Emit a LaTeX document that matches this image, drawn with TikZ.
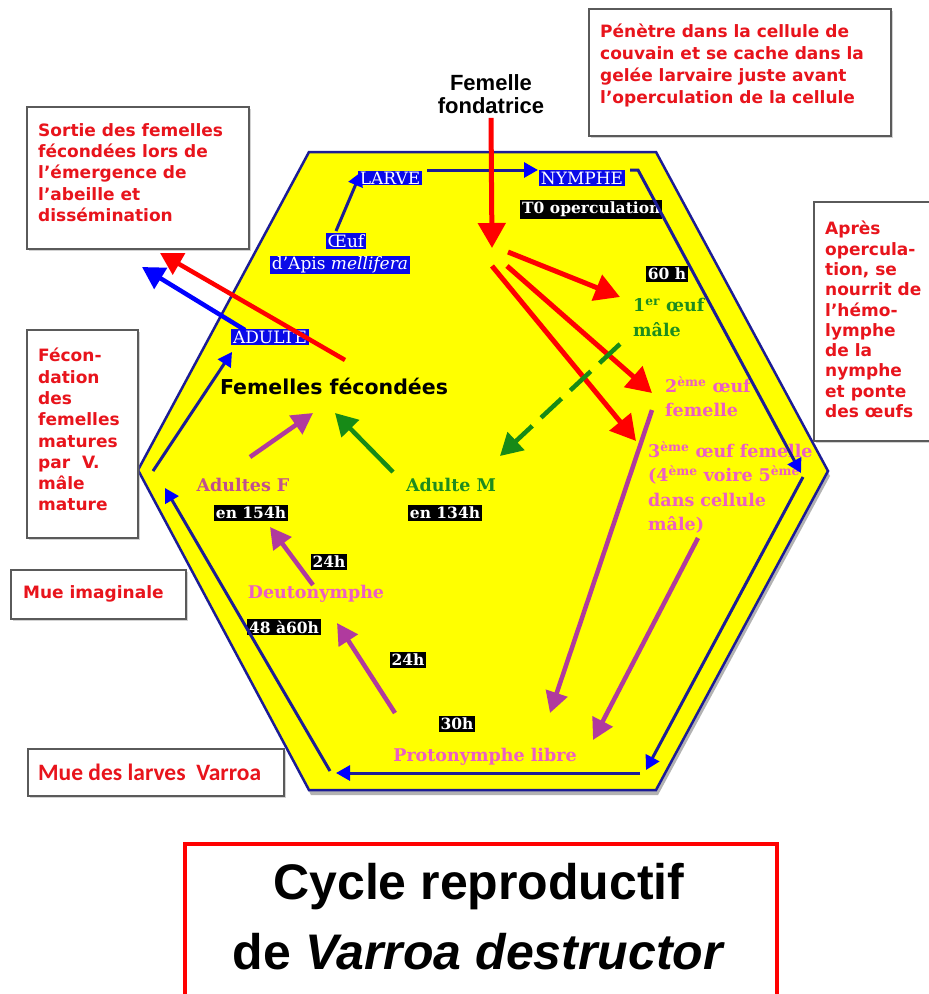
\documentclass[tikz,border=0pt]{standalone}
\usepackage{fontspec}
\setmainfont{DejaVu Serif}
\newfontfamily\vsans{DejaVu Sans}
\newfontfamily\asans{Liberation Sans}
\newfontfamily\csans{Carlito}
\usetikzlibrary{arrows.meta,shadows}
\definecolor{hexyel}{HTML}{FFFF00}
\definecolor{hexnavy}{HTML}{1C1C96}
\definecolor{lblue}{HTML}{0A0AE8}
\definecolor{tipblue}{HTML}{0000FF}
\definecolor{txtred}{HTML}{E8141C}
\definecolor{arrred}{HTML}{FF0000}
\definecolor{pinktxt}{HTML}{EC5EC4}
\definecolor{mauvetxt}{HTML}{C0508E}
\definecolor{purparr}{HTML}{B03A9E}
\definecolor{greentxt}{HTML}{1E8C1E}
\definecolor{greenarr}{HTML}{178A17}
\definecolor{boxgray}{HTML}{5A5A5A}
\tikzset{
 infobox/.style={draw=boxgray, line width=1.8pt, fill=white, drop shadow={shadow xshift=2pt,shadow yshift=-2pt,opacity=0.35,fill=gray}, inner sep=0pt, anchor=north west},
 redtxt/.style={text=txtred, font=\vsans\bfseries\fontsize{17}{21.3}\selectfont, align=left, inner xsep=12pt, inner ysep=18pt, anchor=north west},
 bluelbl/.style={fill=lblue, text=white, font=\fontsize{17}{19}\selectfont, inner xsep=2pt, inner ysep=1.2pt},
 blacklbl/.style={fill=black, text=white, font=\bfseries\fontsize{15.5}{18}\selectfont, inner xsep=2pt, inner ysep=2pt},
 stagelbl/.style={font=\bfseries\fontsize{17.5}{24.5}\selectfont, align=left, inner sep=0pt},
 cyc/.style={draw=hexnavy, line width=3pt, -{Triangle[length=14pt,width=15pt,fill=tipblue,color=tipblue]}},
 redarr/.style={draw=arrred, line width=5pt, -{Triangle[length=25pt,width=27pt]}},
 purarr/.style={draw=purparr, line width=4.5pt, -{Triangle[length=21pt,width=22pt]}},
 grnarr/.style={draw=greenarr, line width=4.5pt, -{Triangle[length=22pt,width=24pt]}},
}
\begin{document}
\begin{tikzpicture}[x=1pt,y=-1pt]
\useasboundingbox (0,0) rectangle (929,994);
\fill[white] (0,0) rectangle (929,994);
% hexagon
\fill[black!30] (311,157) -- (658,157) -- (830,476) -- (658,795) -- (311,795) -- (140,475) -- cycle;
\filldraw[fill=hexyel, draw=hexnavy, line width=2.5pt] (309,152) -- (656,152) -- (828,471) -- (656,790) -- (309,790) -- (138,470) -- cycle;

% info boxes
\node[infobox, minimum width=302pt, minimum height=127pt] (boxA) at (588,8) {};
\node[redtxt, inner ysep=16pt, font=\vsans\bfseries\fontsize{17}{22}\selectfont] (txtA) at (boxA.north west) {Pénètre dans la cellule de\\couvain et se cache dans la\\gelée larvaire juste avant\\l’operculation de la cellule};
\node[infobox, minimum width=222pt, minimum height=142pt] (boxB) at (26,106) {};
\node[redtxt, inner ysep=17pt] (txtB) at (boxB.north west) {Sortie des femelles\\fécondées lors de\\l’émergence de\\l’abeille et\\dissémination};
\node[infobox, minimum width=111pt, minimum height=208pt] (boxC) at (26,329) {};
\node[redtxt, inner ysep=19pt] (txtC) at (boxC.north west) {Fécon-\\dation\\des\\femelles\\matures\\par~ V.\\mâle\\mature};
\node[infobox, minimum width=175pt, minimum height=49pt] (boxD) at (10,569) {};
\node[redtxt, anchor=west, inner xsep=0pt, inner ysep=0pt] (txtD) at ([xshift=13pt,yshift=-24.5pt]boxD.north west) {Mue imaginale};
\node[infobox, minimum width=125pt, minimum height=239pt] (boxE) at (813,201) {};
\node[redtxt, inner ysep=20pt, font=\vsans\bfseries\fontsize{17}{20.3}\selectfont] (txtE) at (boxE.north west) {Après\\opercula-\\tion, se\\nourrit de\\l’hémo-\\lymphe\\de la\\nymphe\\et ponte\\des œufs};
\node[infobox, minimum width=256pt, minimum height=47pt] (boxF) at (27,748) {};
\node[text=txtred, font=\csans\bfseries\fontsize{23.5}{26}\selectfont, anchor=west, inner sep=0pt] (txtF) at ([xshift=11pt,yshift=-24pt]boxF.north west) {Mue des larves~ Varroa};

% title
\node[draw=arrred, line width=4pt, fill=white, minimum width=592pt, minimum height=170pt, anchor=north west] (title) at (183,842) {};
\node[font=\asans\bfseries\fontsize{50}{56}\selectfont, anchor=base, inner sep=0pt] (t1) at (479,899) {Cycle reproductif};
\node[font=\asans\bfseries\fontsize{50}{56}\selectfont, anchor=base, inner sep=0pt] (t2) at (479,969) {de \textit{Varroa destructor}};

% top label
\node[font=\asans\bfseries\fontsize{22}{23}\selectfont, align=center, inner sep=0pt] (fond) at (491,94) {Femelle\\fondatrice};

% cycle labels
\node[bluelbl] (larve) at (390,178) {LARVE};
\node[bluelbl] (nymphe) at (582,178) {NYMPHE};
\node[blacklbl, anchor=west, font=\bfseries\fontsize{15.5}{18}\selectfont] (t0) at (520,209) {T0 operculation};
\node[bluelbl] (oeuf) at (346,241) {Œuf};
\node[bluelbl] (apis) at (340,265) {d’Apis \textit{mellifera}};
\node[blacklbl] (h60) at (667,274) {60 h};
\node[stagelbl, text=greentxt, anchor=north west] (m1) at (633,298) {1\textsuperscript{er} œuf\\mâle};
\node[stagelbl, text=pinktxt, anchor=north west] (f2) at (665,376) {2\textsuperscript{ème} œuf\\femelle};
\node[stagelbl, text=pinktxt, anchor=north west] (f3) at (648,441) {3\textsuperscript{ème} œuf femelle\\(4\textsuperscript{ème} voire 5\textsuperscript{ème}\\dans cellule\\mâle)};
\node[bluelbl] (adulte) at (270,337) {ADULTE};
\node[font=\vsans\bfseries\fontsize{20.5}{24}\selectfont, inner sep=0pt] (ffec) at (334,386) {Femelles fécondées};
\node[stagelbl, text=mauvetxt] (adF) at (243,485) {Adultes F};
\node[stagelbl, text=greentxt] (adM) at (451,485) {Adulte M};
\node[blacklbl] (h154) at (251,513) {en 154h};
\node[blacklbl] (h134) at (445,513) {en 134h};
\node[blacklbl] (h24a) at (329,562) {24h};
\node[stagelbl, text=pinktxt] (deuto) at (316,594) {Deutonymphe};
\node[blacklbl] (h48) at (284,627) {48 à60h};
\node[blacklbl] (h24b) at (408,660) {24h};
\node[blacklbl] (h30) at (457,724) {30h};
\node[stagelbl, text=pinktxt] (proto) at (485,757) {Protonymphe libre};

% coordinates
\coordinate (ffTip) at (492,248);
\coordinate (r2s) at (508,252); \coordinate (r2t) at (620,297);
\coordinate (r3s) at (507,266); \coordinate (r3t) at (652,393);
\coordinate (r4s) at (492,266); \coordinate (r4t) at (636,441);
\coordinate (gds) at (620,344); \coordinate (gdt) at (500,456);
\coordinate (p1s) at (652,410); \coordinate (p1t) at (550,713);
\coordinate (p2s) at (698,538); \coordinate (p2t) at (593,740);
\coordinate (p3s) at (395,713); \coordinate (p3t) at (337,623);
\coordinate (p4s) at (313,585); \coordinate (p4t) at (270,527);
\coordinate (p5s) at (250,457); \coordinate (p5t) at (313,413);
\coordinate (gs) at (393,472); \coordinate (gt) at (335,413);
\coordinate (rss) at (345,360); \coordinate (rst) at (160,253);
\coordinate (bos) at (245,330); \coordinate (bot) at (142,267);
\coordinate (c1s) at (336,231); \coordinate (c1t) at (361,172);
\coordinate (c2s) at (427,170); \coordinate (c2t) at (538,170);
\coordinate (c3s) at (630,170); \coordinate (c3m) at (638,170); \coordinate (c3t) at (801,473);
\coordinate (c4s) at (803,477); \coordinate (c4t) at (646,770);
\coordinate (c5s) at (640,773); \coordinate (c5t) at (336,773);
\coordinate (c6s) at (330,771); \coordinate (c6t) at (165,488);
\coordinate (c7s) at (153,471); \coordinate (c7t) at (232,352);

% cycle arrows
\draw[cyc] (c1s) -- (c1t);
\draw[cyc] (c2s) -- (c2t);
\draw[cyc] (c3s) -- (c3m) -- (c3t);
\draw[cyc] (c4s) -- (c4t);
\draw[cyc] (c5s) -- (c5t);
\draw[cyc] (c6s) -- (c6t);
\draw[cyc] (c7s) -- (c7t);

% red arrows
\draw[redarr] ([yshift=-4pt]fond.south) -- (ffTip);
\draw[redarr] (r2s) -- (r2t);
\draw[redarr] (r3s) -- (r3t);
\draw[redarr] (r4s) -- (r4t);
\draw[redarr, line width=4.5pt, -{Triangle[length=22pt,width=24pt]}] (rss) -- (rst);
\draw[draw=tipblue, line width=4.5pt, -{Triangle[length=22pt,width=24pt]}] (bos) -- (bot);

% green
\draw[grnarr, dash pattern=on 28pt off 12pt] (gds) -- (gdt);
\draw[grnarr] (gs) -- (gt);

% purple
\draw[purarr] (p1s) -- (p1t);
\draw[purarr] (p2s) -- (p2t);
\draw[purarr] (p3s) -- (p3t);
\draw[purarr] (p4s) -- (p4t);
\draw[purarr] (p5s) -- (p5t);
\end{tikzpicture}
\end{document}
